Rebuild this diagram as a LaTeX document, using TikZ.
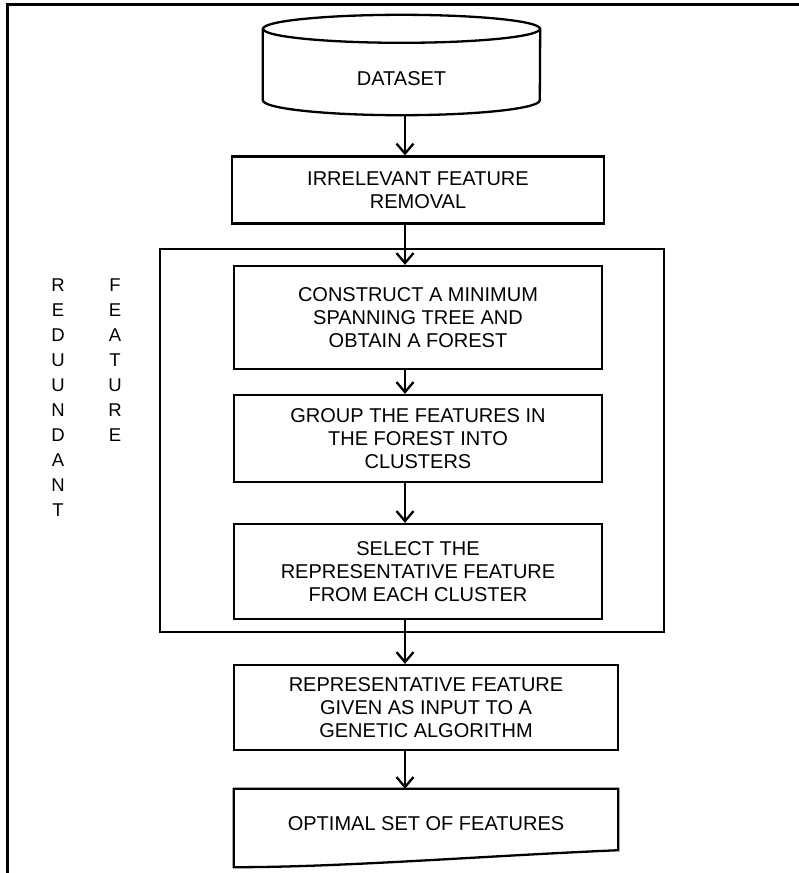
\documentclass[tikz,border=0pt]{standalone}
\usepackage{fontspec}
\setmainfont{Liberation Sans}
\usetikzlibrary{positioning,arrows.meta,calc}
\tikzset{flowchart/.style={x=1pt,y=-1pt,on grid}}
\tikzset{every node/.style={font=\fontsize{20}{22.8}\selectfont,align=center}}
\tikzset{block/.style={draw,line width=2.3pt,inner sep=0pt}}
\tikzset{flow/.style={->,>={Straight Barb[length=10pt,width=17pt]},line width=2.3pt}}
\tikzset{sideword/.style={font=\fontsize{18.5}{25}\selectfont}}

\begin{document}
\begin{tikzpicture}[flowchart]
  \useasboundingbox (0,0) rectangle (799,873);
  \draw[line width=3pt] (7,873) -- (7,4) -- (799,4);
  \coordinate (spine) at (405,0);
  % storage drum
  \node[inner sep=0pt,minimum width=277pt,minimum height=100pt,text height=40pt,text depth=0pt]
    (dataset) at (401.5,65) {DATASET};
  \draw[line width=2.3pt] ([yshift=-14pt]dataset.north) ellipse [x radius=138.5pt,y radius=14pt];
  \draw[line width=2.3pt] ([yshift=-14pt]dataset.north west) -- ([yshift=15pt]dataset.south west)
    arc[start angle=180,end angle=360,x radius=138.5pt,y radius=15pt] -- ([yshift=-14pt]dataset.north east);
  \node[block,minimum width=372pt,minimum height=67pt] (irr) at (418,190) {IRRELEVANT FEATURE\\REMOVAL};
  \node[block,minimum width=504pt,minimum height=383pt] (redgroup) at (412,440.5) {};
  \node[block,minimum width=368pt,minimum height=103pt] (mst) [below=127.5pt of irr]
    {CONSTRUCT A MINIMUM\\SPANNING TREE AND\\OBTAIN A FOREST};
  \node[block,minimum width=368pt,minimum height=87pt] (grouping) [below=121pt of mst]
    {GROUP THE FEATURES IN\\THE FOREST INTO\\CLUSTERS};
  \node[block,minimum width=368pt,minimum height=95pt] (select) [below=133pt of grouping]
    {SELECT THE\\REPRESENTATIVE FEATURE\\FROM EACH CLUSTER};
  \node[block,minimum width=384pt,minimum height=85pt] (genetic) [below=136pt of select,xshift=8pt]
    {REPRESENTATIVE FEATURE\\GIVEN AS INPUT TO A\\GENETIC ALGORITHM};
  % document shape
  \node[minimum width=384pt,minimum height=61pt,inner sep=0pt,text height=22pt,text depth=0pt]
    (optimal) [below=112pt of genetic] {OPTIMAL SET OF FEATURES};
  \draw[line width=2.3pt] (optimal.north west) -- (optimal.north east) -- (optimal.south east)
    .. controls +(-140,6) and +(110,0) .. ([yshift=-17pt]optimal.south west) -- cycle;
  \node[sideword] (redword) at (58,397.5) {R\\E\\D\\U\\U\\N\\D\\A\\N\\T};
  \node[sideword] (featword) at (115,360) {F\\E\\A\\T\\U\\R\\E};
  \draw[flow] (dataset.south -| spine) -- (irr.north -| spine);
  \draw[flow] (irr.south -| spine) -- (mst.north -| spine);
  \draw[flow] (mst.south -| spine) -- (grouping.north -| spine);
  \draw[flow] (grouping.south -| spine) -- (select.north -| spine);
  \draw[flow] (select.south -| spine) -- (genetic.north -| spine);
  \draw[flow] (genetic.south -| spine) -- (optimal.north -| spine);
\end{tikzpicture}
\end{document}
